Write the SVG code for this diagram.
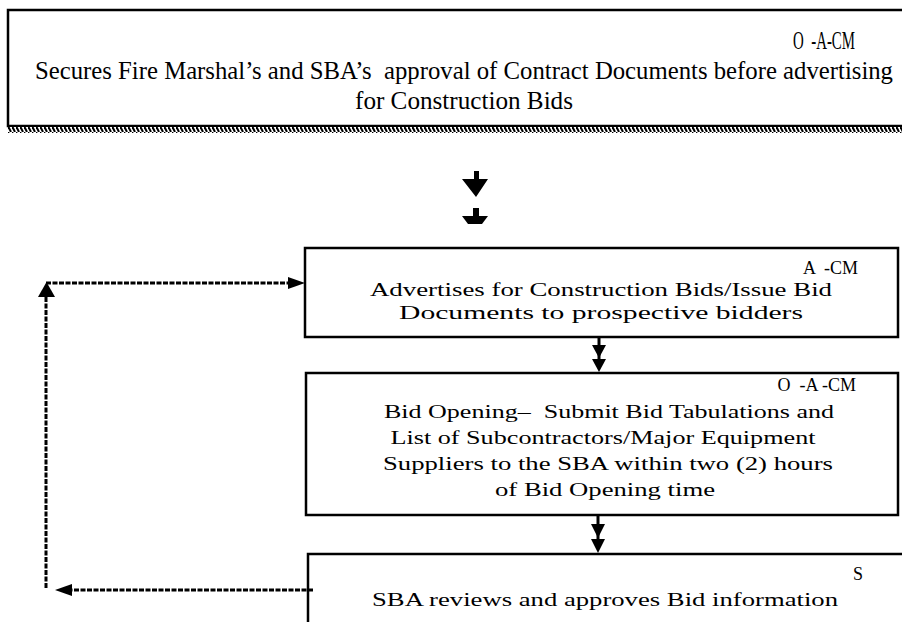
<svg xmlns="http://www.w3.org/2000/svg" width="902" height="622" viewBox="0 0 902 622">
<defs>
<style>
.box{fill:#fff;stroke:#000;stroke-width:2.5}
.t{font-family:"Liberation Serif","Times New Roman",serif;fill:#000;white-space:pre}
.top{font-size:26px}
.b{font-size:18px}
.dash{fill:none;stroke:#000;stroke-width:3;stroke-dasharray:5 1.5}
.solid{fill:none;stroke:#000;stroke-width:3}
</style>
<pattern id="hatch" width="4" height="6" patternUnits="userSpaceOnUse">
<rect width="4" height="6" fill="#fff"/>
<path d="M0,0 L3,6" stroke="#000" stroke-width="2"/>
</pattern>
</defs>

<g id="node-top">
<rect class="box" x="8" y="10" width="910" height="116"/>
<rect x="8" y="127" width="900" height="6" fill="url(#hatch)"/>
<text class="t top" x="855" y="49" text-anchor="end" textLength="62" lengthAdjust="spacingAndGlyphs">O  -A-CM</text>
<text class="t top" x="35" y="79" textLength="858" lengthAdjust="spacingAndGlyphs">Secures Fire Marshal’s and SBA’s  approval of Contract Documents before advertising</text>
<text class="t top" x="355" y="109" textLength="218" lengthAdjust="spacingAndGlyphs">for Construction Bids</text>
</g>

<g id="node-advertise">
<rect class="box" x="305" y="248" width="593" height="89"/>
<text class="t b" x="858" y="274" text-anchor="end">A  -CM</text>
<text class="t b" x="601" y="296" text-anchor="middle" textLength="462" lengthAdjust="spacingAndGlyphs">Advertises for Construction Bids/Issue Bid</text>
<text class="t b" x="601" y="319" text-anchor="middle" textLength="404" lengthAdjust="spacingAndGlyphs">Documents to prospective bidders</text>
</g>

<g id="node-bid-opening">
<rect class="box" x="306" y="373" width="592" height="142"/>
<text class="t b" x="856" y="391" text-anchor="end">O  -A -CM</text>
<text class="t b" x="609" y="418" text-anchor="middle" textLength="450" lengthAdjust="spacingAndGlyphs">Bid Opening–  Submit Bid Tabulations and</text>
<text class="t b" x="603" y="444" text-anchor="middle" textLength="425" lengthAdjust="spacingAndGlyphs">List of Subcontractors/Major Equipment</text>
<text class="t b" x="608" y="470" text-anchor="middle" textLength="450" lengthAdjust="spacingAndGlyphs">Suppliers to the SBA within two (2) hours</text>
<text class="t b" x="605" y="496" text-anchor="middle" textLength="220" lengthAdjust="spacingAndGlyphs">of Bid Opening time</text>
</g>

<g id="node-sba-review">
<rect class="box" x="308" y="554" width="600" height="80"/>
<text class="t b" x="863" y="580" text-anchor="end">S</text>
<text class="t b" x="605" y="606" text-anchor="middle" textLength="466" lengthAdjust="spacingAndGlyphs">SBA reviews and approves Bid information</text>
</g>

<g id="connectors">
<polygon points="474,171 479,171 479,179 488,179 476,197 462,179 474,179" fill="#000"/>
<polygon points="473,208 479,208 479,216 488,216 482,224 468,224 462,216 473,216" fill="#000"/>
<line class="solid" x1="599" y1="338" x2="599" y2="362"/>
<polygon points="592,345 606,345 599,358" fill="#000"/>
<polygon points="592,359 606,359 599,372" fill="#000"/>
<line class="solid" x1="598" y1="516" x2="598" y2="542"/>
<polygon points="591,524 605,524 598,538" fill="#000"/>
<polygon points="591,539 605,539 598,553" fill="#000"/>
<line class="dash" x1="313" y1="590" x2="70" y2="590"/>
<polygon points="72,584 72,596 55,590" fill="#000"/>
<line class="dash" x1="46" y1="588" x2="46" y2="296"/>
<polygon points="38,297 55,297 46.5,282" fill="#000"/>
<line class="dash" x1="46" y1="283" x2="288" y2="283"/>
<polygon points="288,277 288,289 305,283" fill="#000"/>
</g>
</svg>
